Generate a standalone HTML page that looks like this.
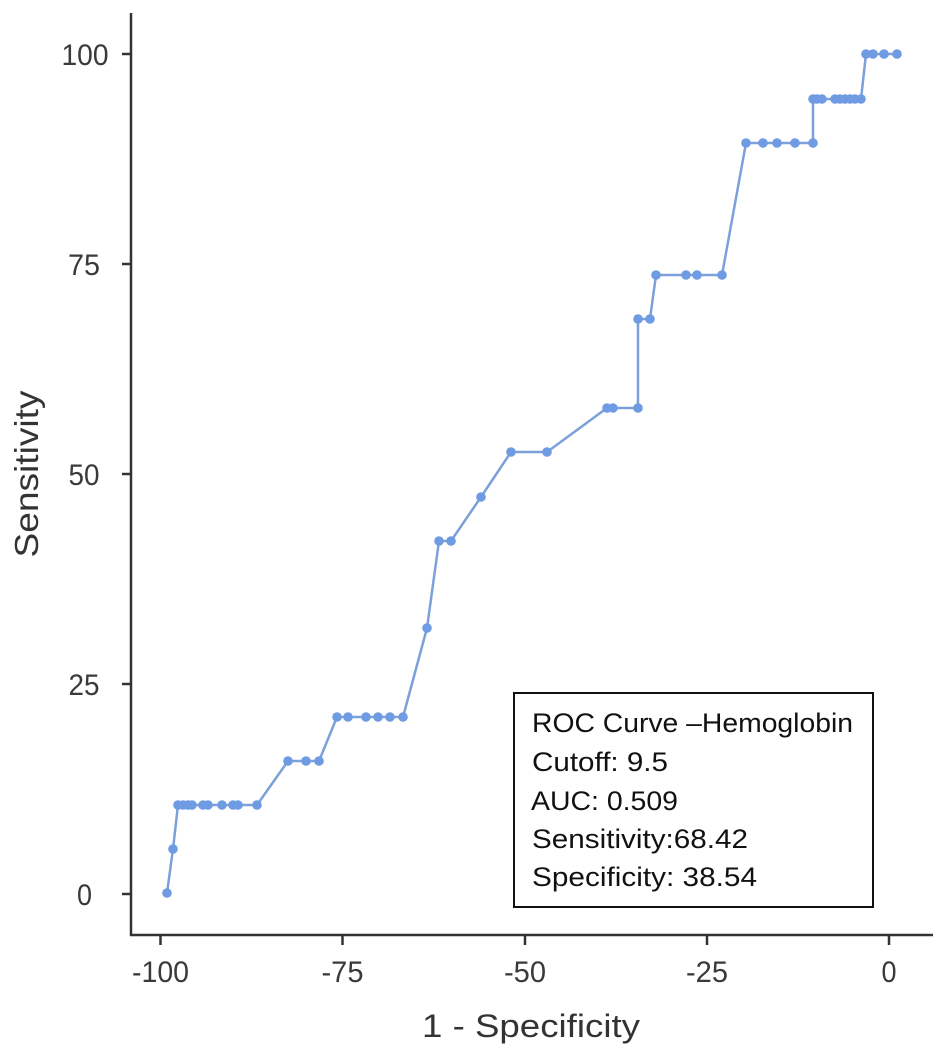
<!DOCTYPE html>
<html>
<head>
<meta charset="utf-8">
<style>
  html, body { margin: 0; padding: 0; background: #ffffff; }
  svg { display: block; }
  text { font-family: "Liberation Sans", Arial, sans-serif; }
</style>
</head>
<body>
<svg width="945" height="1056" viewBox="0 0 945 1056" xmlns="http://www.w3.org/2000/svg">
  <rect x="0" y="0" width="945" height="1056" fill="#ffffff"/>

  <!-- axes -->
  <line x1="131" y1="13" x2="131" y2="936" stroke="#333" stroke-width="2.5"/>
  <line x1="130" y1="935" x2="933" y2="935" stroke="#333" stroke-width="2.5"/>

  <!-- y ticks -->
  <g stroke="#333" stroke-width="2.5">
    <line x1="122" y1="54" x2="131" y2="54"/>
    <line x1="122" y1="264" x2="131" y2="264"/>
    <line x1="122" y1="474" x2="131" y2="474"/>
    <line x1="122" y1="684" x2="131" y2="684"/>
    <line x1="122" y1="894" x2="131" y2="894"/>
  </g>
  <g font-size="30" fill="#3a3a3a" text-anchor="middle">
    <text x="85" y="65" textLength="47" lengthAdjust="spacingAndGlyphs">100</text>
    <text x="84" y="275" textLength="32" lengthAdjust="spacingAndGlyphs">75</text>
    <text x="84" y="485" textLength="31" lengthAdjust="spacingAndGlyphs">50</text>
    <text x="84" y="695" textLength="31" lengthAdjust="spacingAndGlyphs">25</text>
    <text x="84.5" y="905" textLength="15" lengthAdjust="spacingAndGlyphs">0</text>
  </g>

  <!-- x ticks -->
  <g stroke="#333" stroke-width="2.5">
    <line x1="160.5" y1="935" x2="160.5" y2="945"/>
    <line x1="342.5" y1="935" x2="342.5" y2="945"/>
    <line x1="525" y1="935" x2="525" y2="945"/>
    <line x1="707" y1="935" x2="707" y2="945"/>
    <line x1="889" y1="935" x2="889" y2="945"/>
  </g>
  <g font-size="30" fill="#3a3a3a" text-anchor="middle">
    <text x="160.5" y="982" textLength="57" lengthAdjust="spacingAndGlyphs">-100</text>
    <text x="342.5" y="982" textLength="42" lengthAdjust="spacingAndGlyphs">-75</text>
    <text x="525" y="982" textLength="42" lengthAdjust="spacingAndGlyphs">-50</text>
    <text x="707" y="982" textLength="42" lengthAdjust="spacingAndGlyphs">-25</text>
    <text x="889" y="982" textLength="15" lengthAdjust="spacingAndGlyphs">0</text>
  </g>

  <!-- axis titles -->
  <text x="531" y="1037" font-size="32" fill="#333" text-anchor="middle" textLength="218" lengthAdjust="spacingAndGlyphs">1 - Specificity</text>
  <text transform="translate(38,474) rotate(-90)" x="0" y="0" font-size="33" fill="#333" text-anchor="middle" textLength="167" lengthAdjust="spacingAndGlyphs">Sensitivity</text>

  <!-- curve -->
  <polyline fill="none" stroke="#7ba0da" stroke-width="2.5" stroke-linejoin="round"
    points="167,893 173,849 178,805 183,805 188,805 192,805 203,805 208,805 222,805 233,805 238,805 257,805
            288,761 306,761 319,761
            337,717 348,717 366,717 378,717 390,717 403,717
            427,628 439,541 451,541 481,497 511,452 547,452
            607,408 613,408 638,408 638,319 650,319
            656,275 686,275 697,275 722,275
            746,143 763,143 777,143 795,143 813,143
            813,99 817,99 822,99 835,99 840,99 845,99 850,99 855,99 861,99
            866,54 873,54 884,54 897,54"/>
  <g fill="#6f9be2">
    <circle cx="167" cy="893" r="4.8"/><circle cx="173" cy="849" r="4.8"/>
    <circle cx="178" cy="805" r="4.8"/><circle cx="183" cy="805" r="4.8"/><circle cx="188" cy="805" r="4.8"/><circle cx="192" cy="805" r="4.8"/>
    <circle cx="203" cy="805" r="4.8"/><circle cx="208" cy="805" r="4.8"/><circle cx="222" cy="805" r="4.8"/>
    <circle cx="233" cy="805" r="4.8"/><circle cx="238" cy="805" r="4.8"/><circle cx="257" cy="805" r="4.8"/>
    <circle cx="288" cy="761" r="4.8"/><circle cx="306" cy="761" r="4.8"/><circle cx="319" cy="761" r="4.8"/>
    <circle cx="337" cy="717" r="4.8"/><circle cx="348" cy="717" r="4.8"/><circle cx="366" cy="717" r="4.8"/>
    <circle cx="378" cy="717" r="4.8"/><circle cx="390" cy="717" r="4.8"/><circle cx="403" cy="717" r="4.8"/>
    <circle cx="427" cy="628" r="4.8"/><circle cx="439" cy="541" r="4.8"/><circle cx="451" cy="541" r="4.8"/>
    <circle cx="481" cy="497" r="4.8"/><circle cx="511" cy="452" r="4.8"/><circle cx="547" cy="452" r="4.8"/>
    <circle cx="607" cy="408" r="4.8"/><circle cx="613" cy="408" r="4.8"/><circle cx="638" cy="408" r="4.8"/>
    <circle cx="638" cy="319" r="4.8"/><circle cx="650" cy="319" r="4.8"/>
    <circle cx="656" cy="275" r="4.8"/><circle cx="686" cy="275" r="4.8"/><circle cx="697" cy="275" r="4.8"/><circle cx="722" cy="275" r="4.8"/>
    <circle cx="746" cy="143" r="4.8"/><circle cx="763" cy="143" r="4.8"/><circle cx="777" cy="143" r="4.8"/><circle cx="795" cy="143" r="4.8"/><circle cx="813" cy="143" r="4.8"/>
    <circle cx="813" cy="99" r="4.8"/><circle cx="817" cy="99" r="4.8"/><circle cx="822" cy="99" r="4.8"/>
    <circle cx="835" cy="99" r="4.8"/><circle cx="840" cy="99" r="4.8"/><circle cx="845" cy="99" r="4.8"/>
    <circle cx="850" cy="99" r="4.8"/><circle cx="855" cy="99" r="4.8"/><circle cx="861" cy="99" r="4.8"/>
    <circle cx="866" cy="54" r="4.8"/><circle cx="873" cy="54" r="4.8"/><circle cx="884" cy="54" r="4.8"/><circle cx="897" cy="54" r="4.8"/>
  </g>

  <!-- legend box -->
  <rect x="514" y="693" width="359" height="214" fill="#ffffff" stroke="#111" stroke-width="2"/>
  <g font-size="27" fill="#111">
    <text x="532" y="732" textLength="321" lengthAdjust="spacingAndGlyphs">ROC Curve –Hemoglobin</text>
    <text x="532" y="771" textLength="136" lengthAdjust="spacingAndGlyphs">Cutoff: 9.5</text>
    <text x="531" y="810" textLength="147" lengthAdjust="spacingAndGlyphs">AUC: 0.509</text>
    <text x="532" y="848" textLength="216" lengthAdjust="spacingAndGlyphs">Sensitivity:68.42</text>
    <text x="532" y="886" textLength="225" lengthAdjust="spacingAndGlyphs">Specificity: 38.54</text>
  </g>
</svg>
</body>
</html>
